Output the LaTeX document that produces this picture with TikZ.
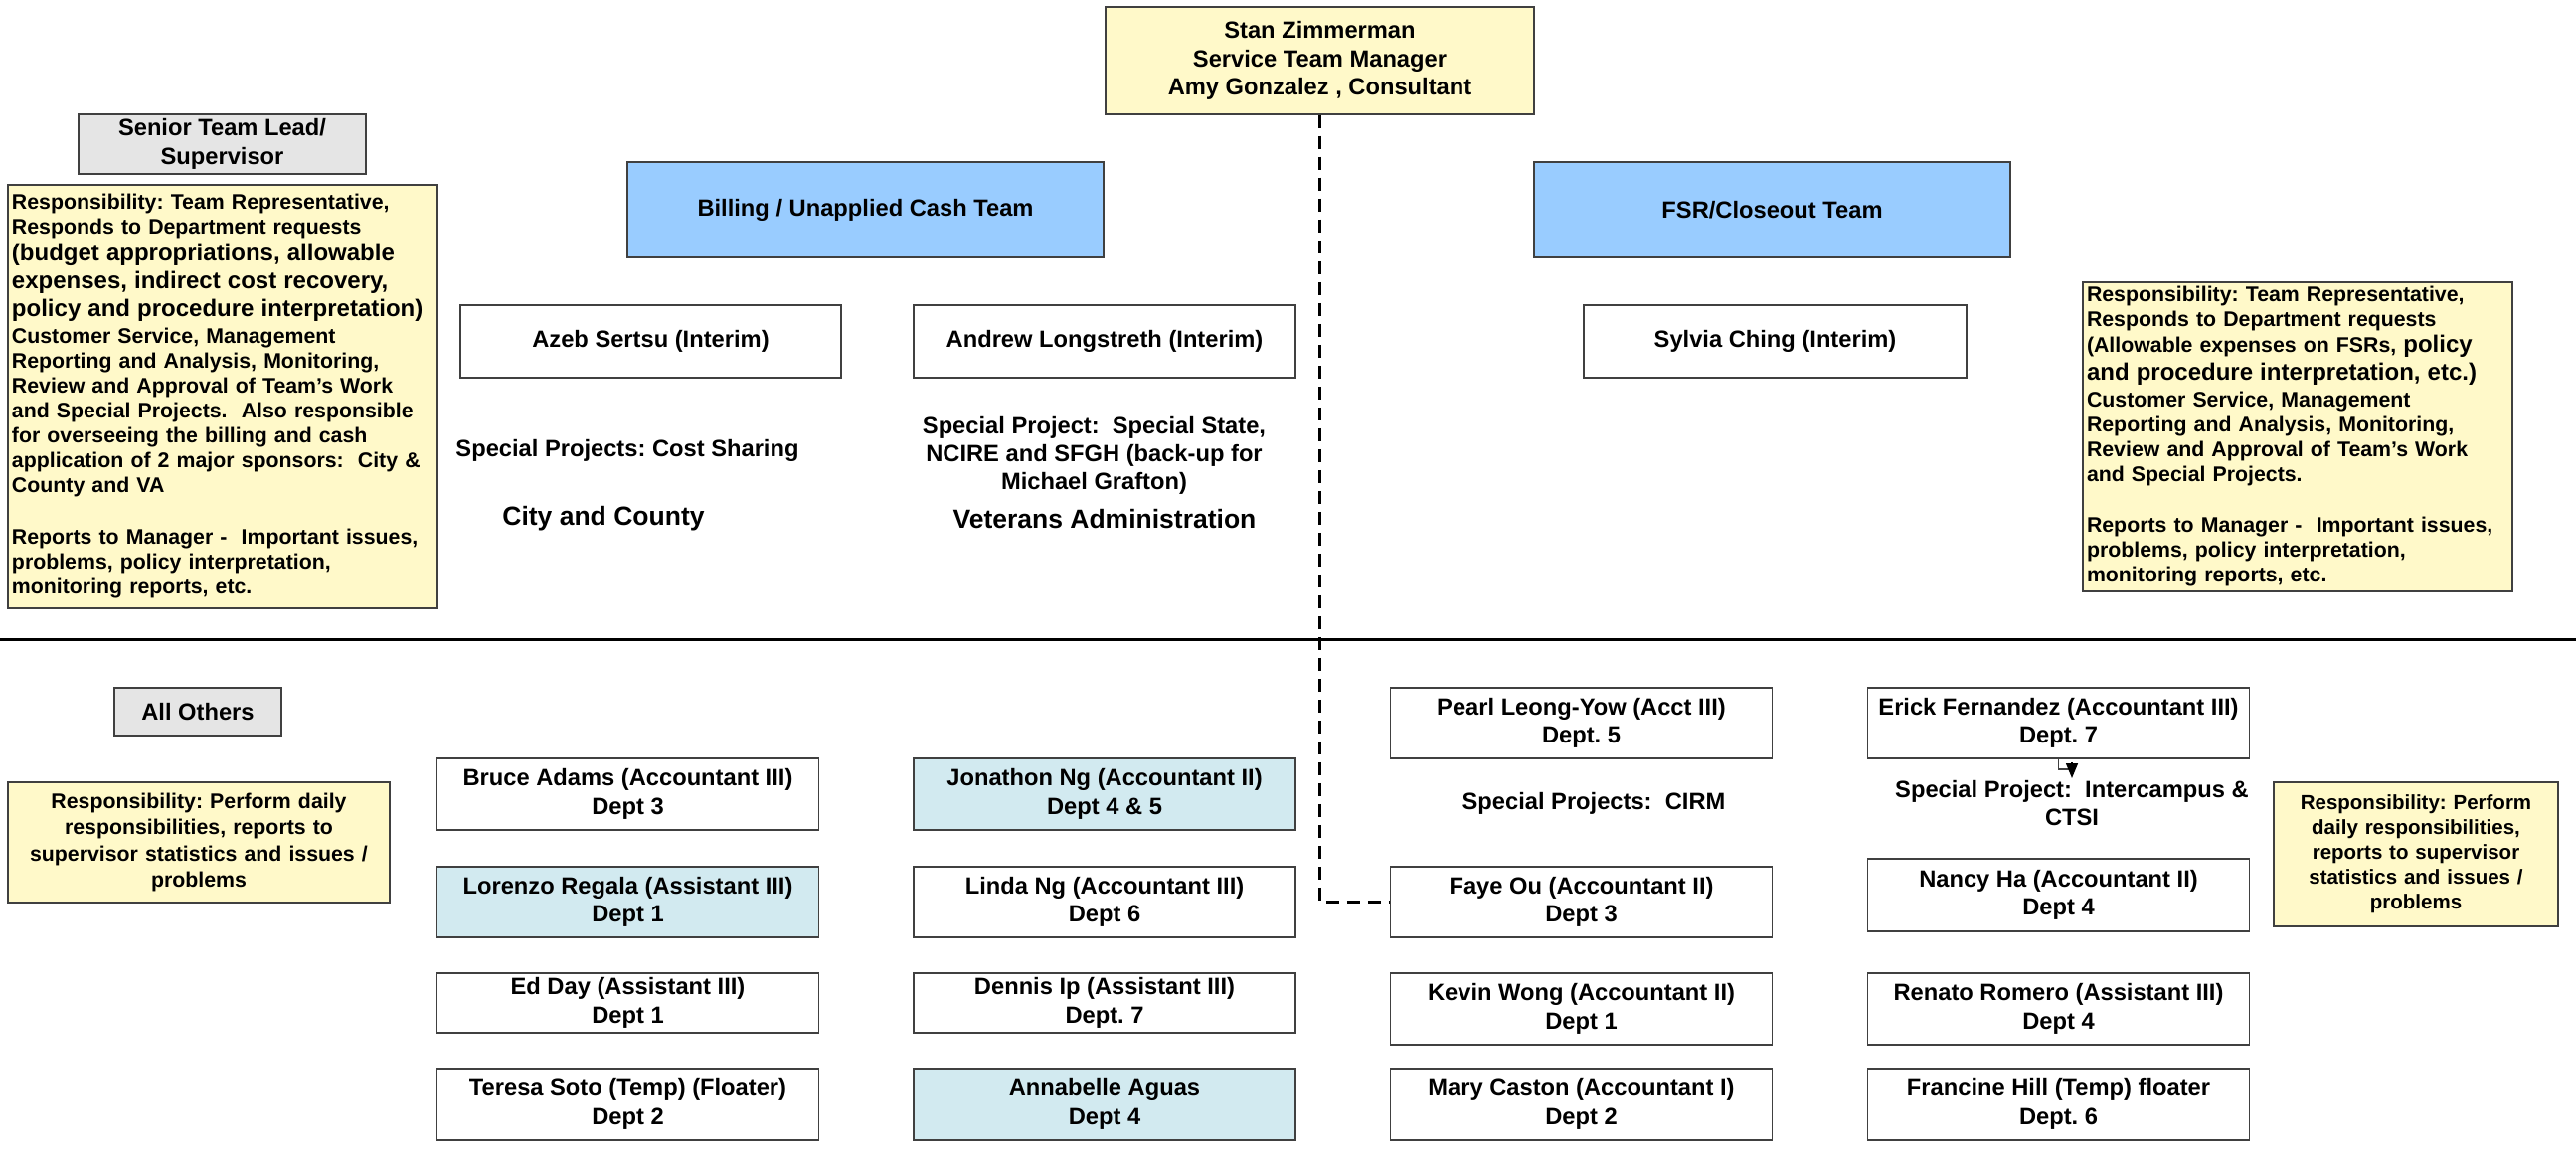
\documentclass[tikz,border=0pt]{standalone}
\usepackage{fontspec}
\setmainfont{Liberation Sans}
\frenchspacing
\usetikzlibrary{arrows.meta}
\definecolor{yel}{HTML}{FFF9C9}
\definecolor{hdrblue}{HTML}{99CCFF}
\definecolor{ltblue}{HTML}{D2EAF0}
\definecolor{gry}{HTML}{E5E5E5}
\definecolor{edge}{HTML}{404040}
\tikzset{
  sz/.style 2 args={minimum width=#1pt,minimum height=#2pt},
  box/.style={draw=edge,line width=1.5pt,inner sep=0pt,align=center,
    font=\bfseries\fontsize{23.7}{28.5}\selectfont},
  person/.style={box,fill=white,minimum width=384pt},
  hl/.style={fill=ltblue},
  note/.style={draw=edge,fill=yel,line width=1.5pt,inner xsep=4pt,inner ysep=0pt,
    font=\bfseries\fontsize{21.3}{25}\selectfont},
  lbl/.style={inner sep=0pt,align=center,font=\bfseries\fontsize{23.7}{28}\selectfont},
  biglbl/.style={lbl,font=\bfseries\fontsize{26.5}{30}\selectfont},
  dashlink/.style={line width=2.5pt,dash pattern=on 13pt off 8pt},
  link/.style={draw=edge,line width=1.5pt},
}
\begin{document}
\begin{tikzpicture}[x=1pt,y=-1pt]
\fill[white] (0,0) rectangle (2591,1161);
\useasboundingbox (0,0) rectangle (2591,1161);

% top manager
\node[box,fill=yel,sz={431}{108}] (mgr) at (1327.5,61)
  {Stan Zimmerman\\Service Team Manager\\Amy Gonzalez , Consultant};

% left legend
\node[box,fill=gry,sz={289}{60}] (senior) at (223.5,145) {Senior Team Lead/\\Supervisor};
\node[note,align=left,text width=424pt,sz={432}{426}] (seniornote) at (224,399)
  {Responsibility: Team Representative,\\
   Responds to Department requests\\[2pt]
   {\fontsize{24}{25}\selectfont(budget appropriations, allowable}\\[3pt]
   {\fontsize{24}{25}\selectfont expenses, indirect cost recovery,}\\[3pt]
   {\fontsize{24}{25}\selectfont policy and procedure interpretation)}\\[2pt]
   Customer Service, Management\\
   Reporting and Analysis, Monitoring,\\
   Review and Approval of Team’s Work\\
   and Special Projects.\ \ Also responsible\\
   for overseeing the billing and cash\\
   application of 2 major sponsors:\ \ City \&\\
   County and VA\\[27pt]
   Reports to Manager -\ \ Important issues,\\
   problems, policy interpretation,\\
   monitoring reports, etc.};

% right legend
\node[note,align=left,text width=424pt,sz={432}{311}] (fsrnote) at (2311,439.5)
  {Responsibility: Team Representative,\\
   Responds to Department requests\\[1pt]
   (Allowable expenses on FSRs, {\fontsize{24}{25}\selectfont policy}\\[3pt]
   {\fontsize{24}{25}\selectfont and procedure interpretation, etc.)}\\[2pt]
   Customer Service, Management\\
   Reporting and Analysis, Monitoring,\\
   Review and Approval of Team’s Work\\
   and Special Projects.\\[26pt]
   Reports to Manager -\ \ Important issues,\\
   problems, policy interpretation,\\
   monitoring reports, etc.};

% team headers
\node[box,fill=hdrblue,sz={479}{96}] (billing) at (870.5,211) {Billing / Unapplied Cash Team};
\node[box,fill=hdrblue,sz={479}{96}] (fsr) at (1782.5,211) {FSR/Closeout Team};

% leads
\node[box,fill=white,sz={383}{73}] (azeb) at (654.5,343.5) {Azeb Sertsu (Interim)};
\node[box,fill=white,sz={384}{73}] (andrew) at (1111,343.5) {Andrew Longstreth (Interim)};
\node[box,fill=white,sz={385}{73}] (sylvia) at (1785.5,343.5) {Sylvia Ching (Interim)};

\node[lbl] (sp1) at (631,453) {Special Projects: Cost Sharing};
\node[biglbl] (cc) at (607,522) {City and County};
\node[lbl] (sp2) at (1100.5,458) {Special Project:\ \ Special State,\\NCIRE and SFGH (back-up for\\Michael Grafton)};
\node[biglbl] (va) at (1111,522) {Veterans Administration};

% separator
\coordinate (sepL) at (0,643);
\coordinate (sepR) at (2591,643);
\draw[line width=3pt] (sepL) -- (sepR);

% lower legend
\node[box,fill=gry,sz={168}{48}] (others) at (199,716) {All Others};
\node[note,align=center,text width=376pt,sz={384}{121},
  font=\bfseries\fontsize{21.3}{26.5}\selectfont] (othersnote) at (200,847.5)
  {Responsibility: Perform daily\\responsibilities, reports to\\supervisor statistics and issues /\\problems};
\node[note,align=center,text width=278pt,sz={286}{145},
  font=\bfseries\fontsize{20.5}{25}\selectfont] (othersnote2) at (2430,859.5)
  {Responsibility: Perform\\daily responsibilities,\\reports to supervisor\\statistics and issues /\\problems};

% column 1
\node[person,minimum height=72pt] (bruce) at (631.5,799) {Bruce Adams (Accountant III)\\Dept 3};
\node[person,hl,minimum height=71pt] (lorenzo) at (631.5,907.5) {Lorenzo Regala (Assistant III)\\Dept 1};
\node[person,minimum height=60pt] (edday) at (631.5,1009) {Ed Day (Assistant III)\\Dept 1};
\node[person,minimum height=72pt] (teresa) at (631.5,1111) {Teresa Soto (Temp) (Floater)\\Dept 2};
% column 2
\node[person,hl,minimum height=72pt] (jonathon) at (1111,799) {Jonathon Ng (Accountant II)\\Dept 4 \& 5};
\node[person,minimum height=71pt] (linda) at (1111,907.5) {Linda Ng (Accountant III)\\Dept 6};
\node[person,minimum height=60pt] (dennis) at (1111,1009) {Dennis Ip (Assistant III)\\Dept. 7};
\node[person,hl,minimum height=72pt] (annabelle) at (1111,1111) {Annabelle Aguas\\Dept 4};
% column 3
\node[person,minimum height=71pt] (pearl) at (1590.5,727.5) {Pearl Leong-Yow (Acct III)\\Dept. 5};
\node[lbl] (sp3) at (1603,808) {Special Projects:\ \ CIRM};
\node[person,minimum height=71pt] (faye) at (1590.5,907.5) {Faye Ou (Accountant II)\\Dept 3};
\node[person,minimum height=72pt] (kevin) at (1590.5,1015) {Kevin Wong (Accountant II)\\Dept 1};
\node[person,minimum height=72pt] (mary) at (1590.5,1111) {Mary Caston (Accountant I)\\Dept 2};
% column 4
\node[person,minimum height=71pt] (erick) at (2070.5,727.5) {Erick Fernandez (Accountant III)\\Dept. 7};
\node[lbl] (sp4) at (2084,808) {Special Project:\ \ Intercampus \&\\CTSI};
\node[person,minimum height=73pt] (nancy) at (2070.5,900.5) {Nancy Ha (Accountant II)\\Dept 4};
\node[person,minimum height=72pt] (renato) at (2070.5,1015) {Renato Romero (Assistant III)\\Dept 4};
\node[person,minimum height=72pt] (francine) at (2070.5,1111) {Francine Hill (Temp) floater\\Dept. 6};

% connectors
\draw[dashlink] (mgr.south) -- (mgr.south |- faye.west) -- (faye.west);
\coordinate (elb) at (2084,774);
\coordinate (sp4top) at (2084,783);
\draw[link] (erick.south) |- (elb);
\draw[-{Triangle[width=12pt,length=15pt]},line width=1.5pt] ([yshift=16pt]sp4top) -- (sp4top);
\end{tikzpicture}
\end{document}
